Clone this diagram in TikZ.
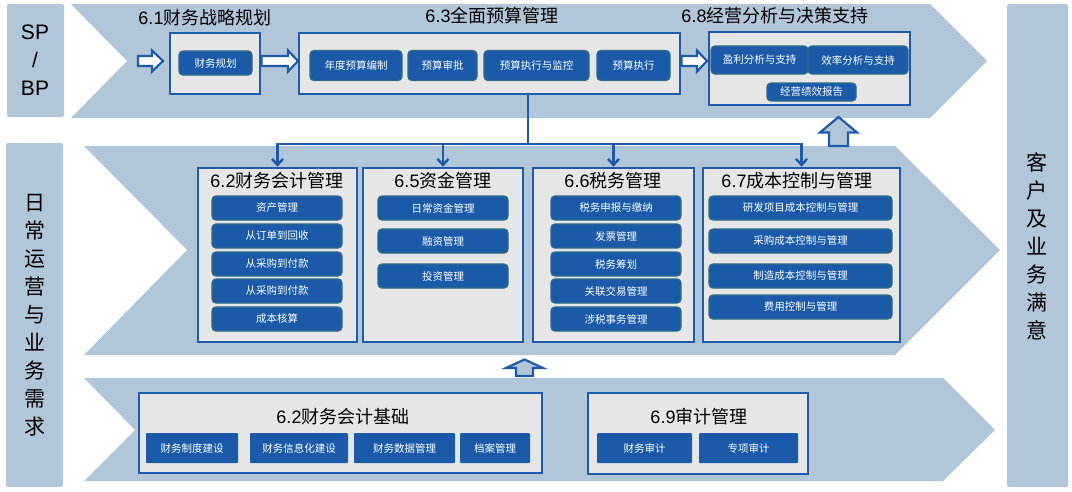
\documentclass[tikz,border=0pt]{standalone}
\usepackage{fontspec}
\setmainfont{Liberation Sans}
\newfontfamily\cjk{Noto Sans CJK SC}
\usetikzlibrary{arrows.meta}
\definecolor{bgblue}{HTML}{B1C6D8}
\definecolor{boxblue}{HTML}{1E5BAA}
\definecolor{boxgray}{HTML}{E6E6E6}
\definecolor{btnblue}{HTML}{1A5AA8}
\definecolor{btnedge}{HTML}{2F6B86}
\tikzset{
  panel/.style={fill=bgblue, draw=none},
  sidebox/.style={fill=bgblue, draw=none, rounded corners=2pt},
  grp/.style={draw=boxblue, line width=2.6pt, fill=boxgray, inner sep=0pt, rectangle},
  btn/.style={fill=btnblue, draw=btnedge, line width=1.3pt, rounded corners=4pt, text=white,
    font=\cjk\fontsize{10.5}{10.5}\selectfont, inner sep=0pt, minimum height=24pt},
  sqbtn/.style={fill=btnblue, draw=none, rounded corners=1pt, text=white,
    font=\cjk\fontsize{10.5}{10.5}\selectfont, inner sep=0pt, minimum height=30pt},
  ttl/.style={font=\fontsize{18}{18}\selectfont, inner sep=0pt, text=black},
  vlabel/.style={align=center, font=\cjk\fontsize{21}{28}\selectfont, inner sep=0pt, text=black},
  conn/.style={draw=boxblue, line width=2.6pt},
  connarrow/.style={conn, -{Straight Barb[length=6pt,width=11pt,line width=2.4pt]}},
  hollow/.style={draw=boxblue, line width=2.2pt, line join=miter},
}
\begin{document}
\begin{tikzpicture}[x=1pt,y=-1pt]
\useasboundingbox (0,0) rectangle (1072,491);

% side boxes
\fill[sidebox] (7,4) rectangle (64,117);
\fill[sidebox] (6,143) rectangle (63,487);
\fill[sidebox] (1007,4) rectangle (1068,487);
\node[align=center, font=\fontsize{21}{28}\selectfont, inner sep=0pt] (spbp) at (35,60.5) {SP\\/\\BP};
\node[vlabel] (daily) at (35,315) {日\\常\\运\\营\\与\\业\\务\\需\\求};
\node[vlabel] (cust) at (1037,246) {客\\户\\及\\业\\务\\满\\意};

% chevrons
\fill[panel] (71,4) -- (930,4) -- (987,61) -- (930,118) -- (71,118) -- (127,61) -- cycle;
\fill[panel] (84,146) -- (895,146) -- (1000,250) -- (895,355) -- (84,355) -- (187,250) -- cycle;
\fill[panel] (84,378) -- (943,378) -- (995,430) -- (943,481) -- (84,481) -- (135,430) -- cycle;

% ---------- top row ----------
\node[ttl] (t61) at (205,18) {6.1{\cjk 财务战略规划}};
\node[ttl] (t63) at (492,16) {6.3{\cjk 全面预算管理}};
\node[ttl] (t68) at (775,16) {6.8{\cjk 经营分析与决策支持}};

\node[grp, minimum width=90, minimum height=61] (g61) at (215,63.5) {};
\node[btn, minimum width=73] (cwgh) at (215.5,63) {财务规划};

\node[grp, minimum width=381, minimum height=61] (g63) at (489.5,63.5) {};
\node[btn, minimum width=92, minimum height=30] (ndys) at (356,65.5) {年度预算编制};
\node[btn, minimum width=69, minimum height=30] (yssp) at (442.5,65.5) {预算审批};
\node[btn, minimum width=105, minimum height=30] (ysjk) at (536.5,65.5) {预算执行与监控};
\node[btn, minimum width=73, minimum height=30] (yszx) at (633.5,65.5) {预算执行};

\node[grp, minimum width=201, minimum height=73] (g68) at (809.5,68.5) {};
\node[btn, minimum width=97, minimum height=28] (ylfx) at (759.5,60) {盈利分析与支持};
\node[btn, minimum width=100, minimum height=28] (xlfx) at (858,60) {效率分析与支持};
\node[btn, minimum width=89, minimum height=18] (jyjx) at (811.5,92) {经营绩效报告};

% hollow arrows (top)
\filldraw[hollow, fill=white] (138,56) -- (152,56) -- (152,50.5) -- (163,61) -- (152,71.5) -- (152,66) -- (138,66) -- cycle;
\filldraw[hollow, fill=white] (261.5,56) -- (288,56) -- (288,50.5) -- (298,61) -- (288,71.5) -- (288,66) -- (261.5,66) -- cycle;
\filldraw[hollow, fill=white] (681.5,56) -- (697,56) -- (697,50.5) -- (707,61) -- (697,71.5) -- (697,66) -- (681.5,66) -- cycle;
% hollow up arrows
\filldraw[hollow, fill=bgblue] (838.5,117) -- (857,132.5) -- (848,132.5) -- (848,146) -- (829,146) -- (829,132.5) -- (820,132.5) -- cycle;
\filldraw[hollow, fill=bgblue] (524.5,359.5) -- (543,368) -- (533,368) -- (533,376) -- (516,376) -- (516,368) -- (506,368) -- cycle;

% ---------- middle row ----------
\coordinate (hub) at (528,144);
\draw[conn] (g63.south -| hub) -- (hub);

\node[grp, minimum width=159, minimum height=174] (g62) at (277.5,255) {};
\node[grp, minimum width=160, minimum height=174] (g65) at (443,255) {};
\node[grp, minimum width=161, minimum height=174] (g66) at (613.5,255) {};
\node[grp, minimum width=197, minimum height=174] (g67) at (801.5,255) {};

\draw[connarrow] (hub) -| (g62.north);
\draw[connarrow] (hub) -| (g67.north);
\draw[connarrow] (g65.north |- hub) -- (g65.north);
\draw[connarrow] (g66.north |- hub) -- (g66.north);

\node[ttl] (t62) at (277,181) {6.2{\cjk 财务会计管理}};
\node[ttl] (t65) at (443,181) {6.5{\cjk 资金管理}};
\node[ttl] (t66) at (613,181) {6.6{\cjk 税务管理}};
\node[ttl] (t67) at (797,181) {6.7{\cjk 成本控制与管理}};

\node[btn, minimum width=130] (a1) at (277,208) {资产管理};
\node[btn, minimum width=130] (a2) at (277,236) {从订单到回收};
\node[btn, minimum width=130] (a3) at (277,264) {从采购到付款};
\node[btn, minimum width=130] (a4) at (277,291) {从采购到付款};
\node[btn, minimum width=130] (a5) at (277,319) {成本核算};

\node[btn, minimum width=130] (b1) at (443,208) {日常资金管理};
\node[btn, minimum width=130] (b2) at (443,241) {融资管理};
\node[btn, minimum width=130] (b3) at (443,276) {投资管理};

\node[btn, minimum width=130] (c1) at (616,208) {税务申报与缴纳};
\node[btn, minimum width=130] (c2) at (616,236) {发票管理};
\node[btn, minimum width=130] (c3) at (616,264) {税务筹划};
\node[btn, minimum width=130] (c4) at (616,291) {关联交易管理};
\node[btn, minimum width=130] (c5) at (616,319) {涉税事务管理};

\node[btn, minimum width=183] (d1) at (800.5,208) {研发项目成本控制与管理};
\node[btn, minimum width=183] (d2) at (800.5,241) {采购成本控制与管理};
\node[btn, minimum width=183] (d3) at (800.5,276) {制造成本控制与管理};
\node[btn, minimum width=183] (d4) at (800.5,307) {费用控制与管理};

% ---------- bottom row ----------
\node[grp, minimum width=403, minimum height=80] (g62b) at (340.5,433) {};
\node[ttl] (t62b) at (343,417) {6.2{\cjk 财务会计基础}};
\node[sqbtn, minimum width=92] (e1) at (192,448) {财务制度建设};
\node[sqbtn, minimum width=98] (e2) at (299,448) {财务信息化建设};
\node[sqbtn, minimum width=101] (e3) at (404.5,448) {财务数据管理};
\node[sqbtn, minimum width=70] (e4) at (495,448) {档案管理};

\node[grp, minimum width=220, minimum height=81] (g69) at (698,433.5) {};
\node[ttl] (t69) at (699,417) {6.9{\cjk 审计管理}};
\node[sqbtn, minimum width=95] (f1) at (644.5,448) {财务审计};
\node[sqbtn, minimum width=99] (f2) at (748.5,448) {专项审计};
\end{tikzpicture}
\end{document}
